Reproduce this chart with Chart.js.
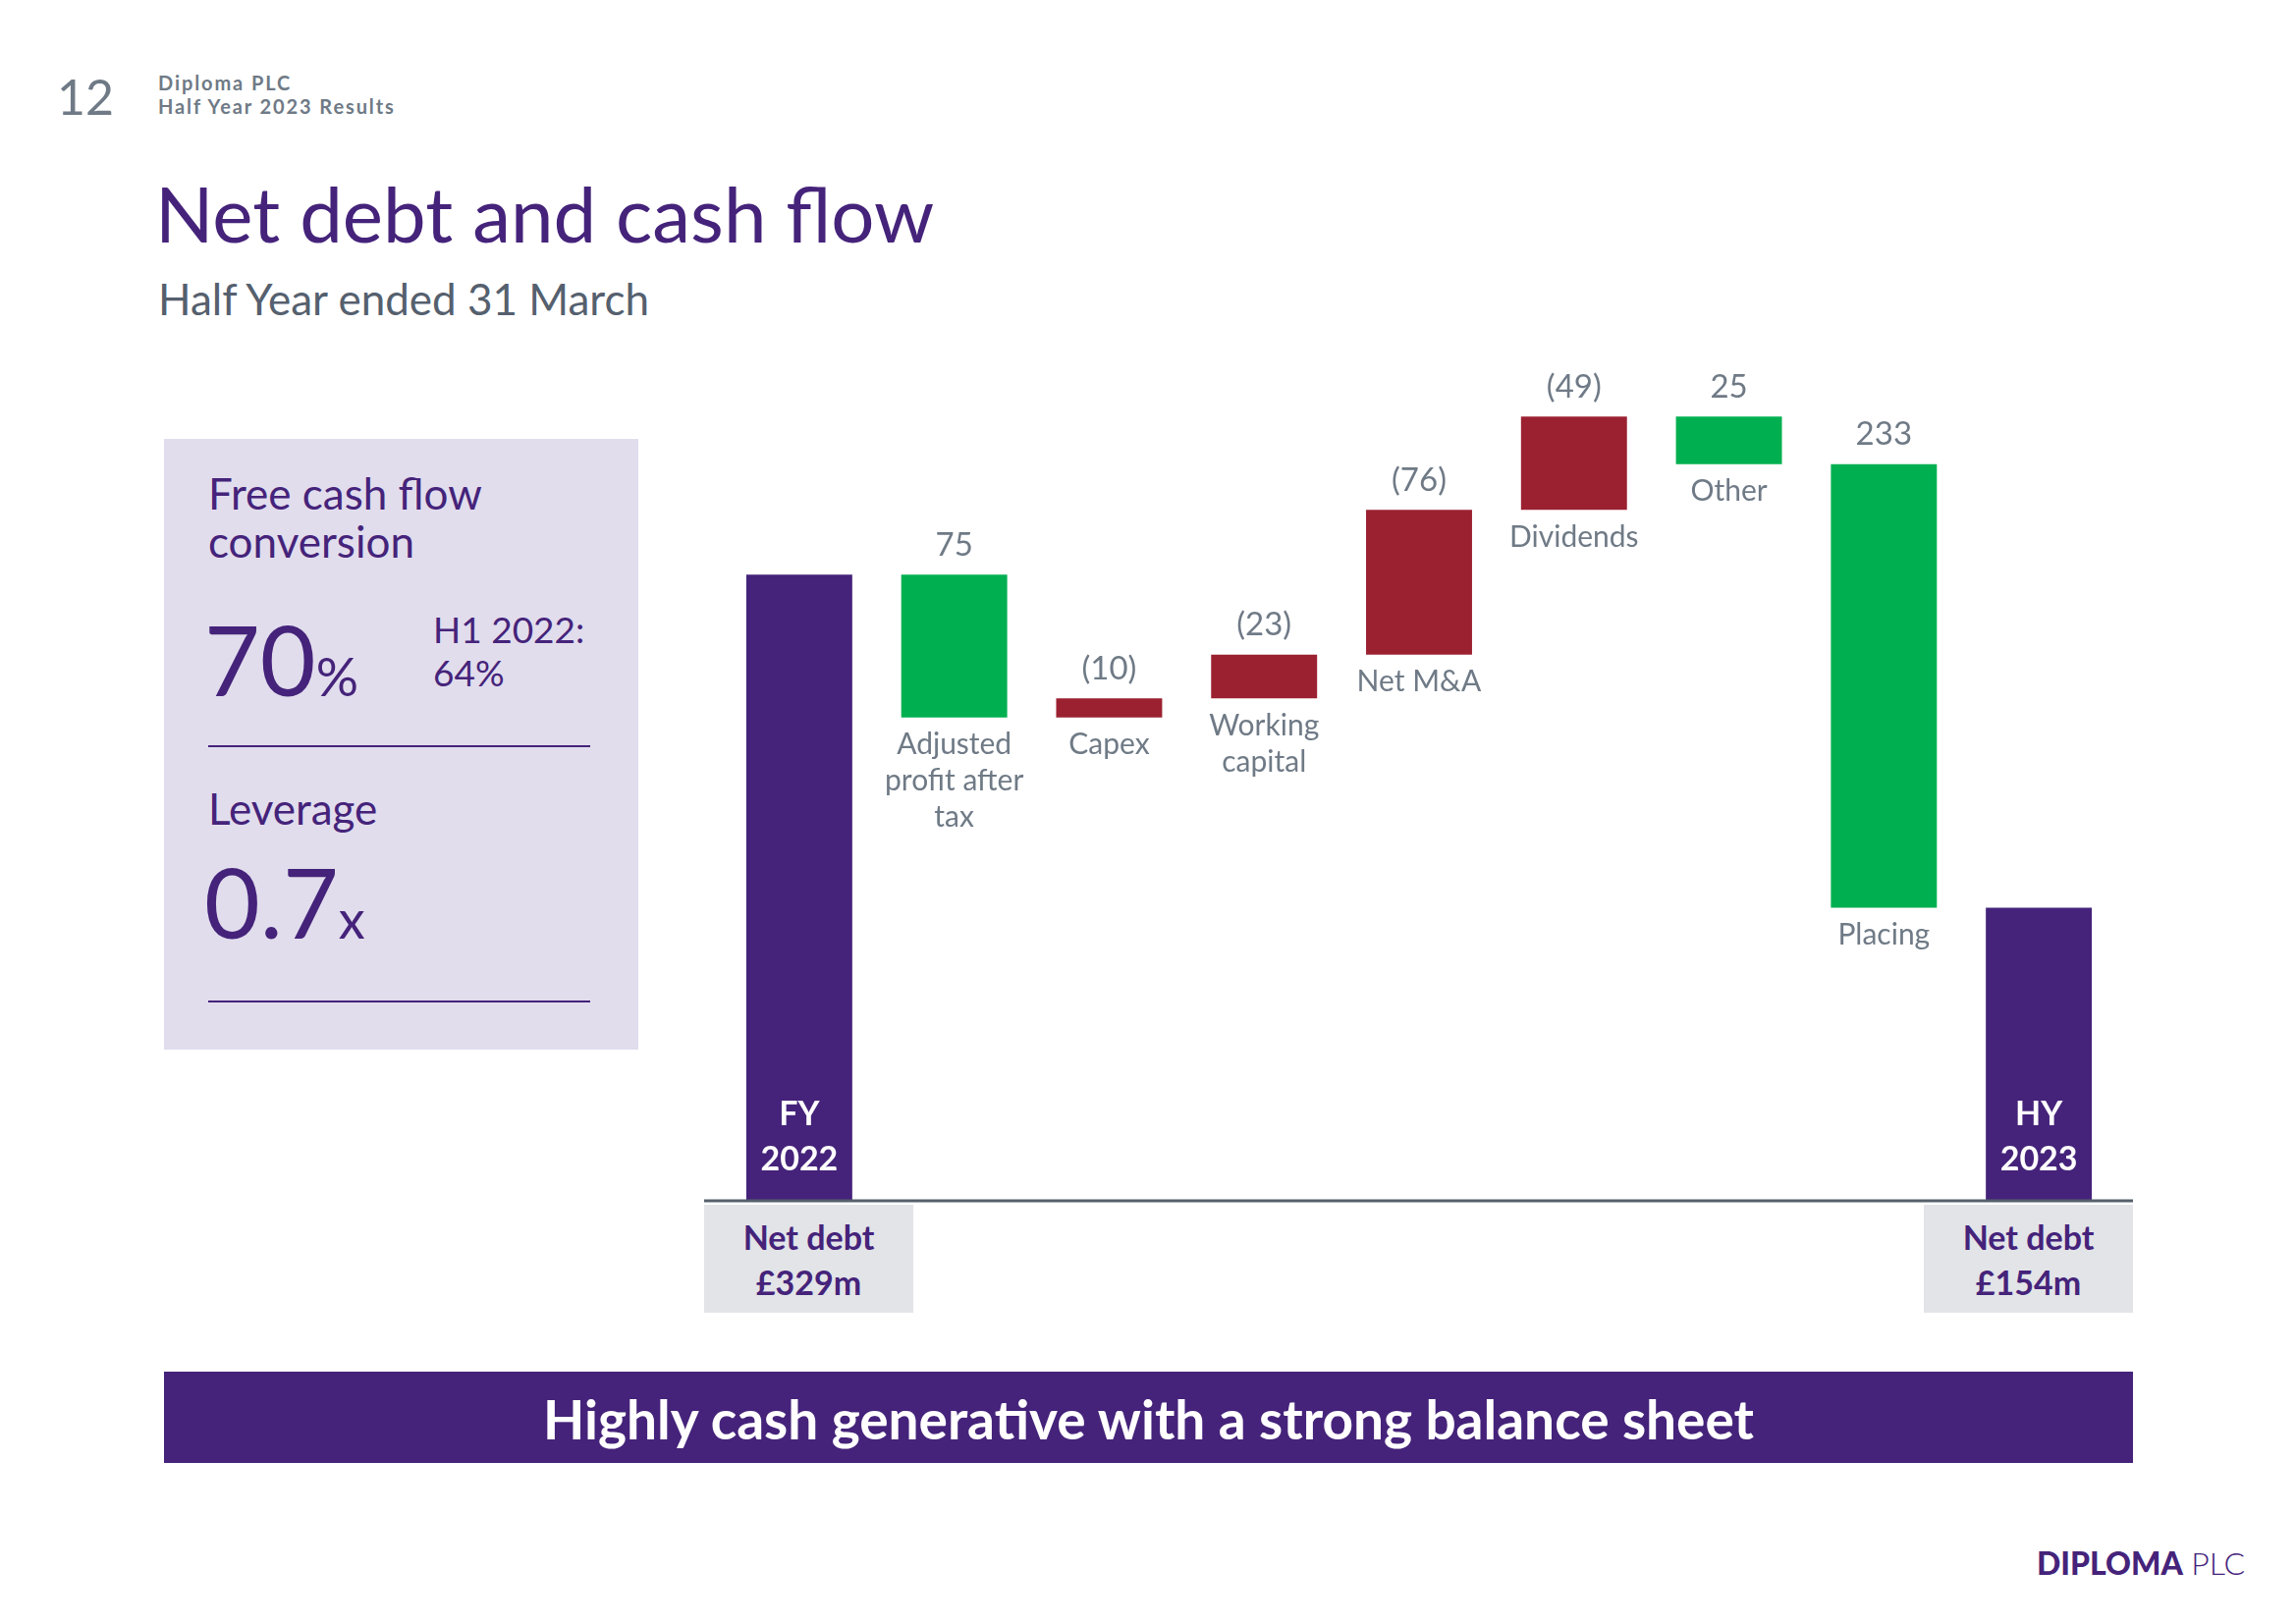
<!DOCTYPE html>
<html>
<head>
<meta charset="utf-8">
<script src="https://cdn.jsdelivr.net/npm/chart.js@4.4.0/dist/chart.umd.min.js"></script>
<style>
  html, body { margin: 0; padding: 0; background: #fff; }
  body { width: 2338px; height: 1653px; position: relative; overflow: hidden; font-family: "Lato", "Open Sans", sans-serif; }
  .t { position: absolute; white-space: nowrap; line-height: 1.2; transform: translateY(-50%); }
  .purple { color: #45237a; }
  .grey { color: #6f7a86; }
  .rule { position: absolute; height: 2px; background: #45237a; }
  .netbox { position: absolute; top: 1227px; width: 213px; height: 110px; background: #e2e4e8; }
  .netbox div { position: absolute; left: 0; right: 0; text-align: center; font-weight: 700; font-size: 34px; color: #45237a; line-height: 1.2; transform: translateY(-50%); }
  #wf { position: absolute; left: 715px; top: 215px; }
</style>
</head>
<body>
  <div class="t grey" style="left:58px; top:98px; font-size:50px;">12</div>
  <div class="t grey" style="left:161px; top:84px; font-size:20px; font-weight:700; letter-spacing:1.9px;">Diploma PLC</div>
  <div class="t grey" style="left:161px; top:108px; font-size:20px; font-weight:700; letter-spacing:1.9px;">Half Year 2023 Results</div>

  <div class="t purple" style="left:158px; top:218px; font-size:78px;">Net debt and cash flow</div>
  <div class="t" style="left:161px; top:304px; font-size:44px; color:#55606e;">Half Year ended 31 March</div>

  <!-- KPI panel -->
  <div style="position:absolute; left:167px; top:447px; width:483px; height:622px; background:#e1dded;"></div>
  <div class="t purple" style="left:212px; top:502px; font-size:44px;">Free cash flow</div>
  <div class="t purple" style="left:212px; top:551px; font-size:44px;">conversion</div>
  <div class="t purple" style="left:208px; top:672px; font-size:98px;">70<span style="font-size:54px;">%</span></div>
  <div class="t purple" style="left:441px; top:641px; font-size:37px;">H1 2022:</div>
  <div class="t purple" style="left:441px; top:685px; font-size:37px;">64%</div>
  <div class="rule" style="left:212px; top:759px; width:389px;"></div>
  <div class="t purple" style="left:212px; top:823px; font-size:44px;">Leverage</div>
  <div class="t purple" style="left:208px; top:919px; font-size:98px;">0.7<span style="font-size:54px;">x</span></div>
  <div class="rule" style="left:212px; top:1019px; width:389px;"></div>

  <canvas id="wf" width="1460" height="1018"></canvas>

  <div class="netbox" style="left:717px;"><div style="top:33px;">Net debt</div><div id="openLbl" style="top:79px;"></div></div>
  <div class="netbox" style="left:1959px;"><div style="top:33px;">Net debt</div><div id="closeLbl" style="top:79px;"></div></div>

  <div style="position:absolute; left:167px; top:1397px; width:2005px; height:93px; background:#45237a;"></div>
  <div class="t" style="left:167px; width:2005px; text-align:center; top:1445px; font-size:55px; font-weight:700; color:#fff;">Highly cash generative with a strong balance sheet</div>

  <div class="t purple" style="left:2074px; top:1592px; font-size:32px;"><span style="font-weight:900;">DIPLOMA</span> <span style="font-weight:300;">PLC</span></div>

<script>
// net debt bridge, £m
const labels = [
  ["FY", "2022"],
  ["Adjusted", "profit after", "tax"],
  ["Capex"],
  ["Working", "capital"],
  ["Net M&A"],
  ["Dividends"],
  ["Other"],
  ["Placing"],
  ["HY", "2023"]
];
const openingDebt = 329;
const closingDebt = 154;
// cash in (+) lowers net debt, cash out (-) raises it
const cashFlows = [75, -10, -23, -76, -49, 25, 233];

const Y_MAX = 520;

(function () {
  const COLORS = {
    total: "#45237a",   // purple
    inflow: "#00b050",  // green
    outflow: "#9b2131", // dark red
    text: "#6f7a86",
    axis: "#55606b"
  };

  document.getElementById("openLbl").textContent = "£" + openingDebt + "m";
  document.getElementById("closeLbl").textContent = "£" + closingDebt + "m";

  // floating bars for the waterfall
  const ranges = [[0, openingDebt]];
  const colors = [COLORS.total];
  const valueText = [null];
  let level = openingDebt;
  cashFlows.forEach(f => {
    const next = level - f;
    ranges.push([Math.min(level, next), Math.max(level, next)]);
    colors.push(f >= 0 ? COLORS.inflow : COLORS.outflow);
    valueText.push(f >= 0 ? String(f) : "(" + Math.abs(f) + ")");
    level = next;
  });
  ranges.push([0, closingDebt]);
  colors.push(COLORS.total);
  valueText.push(null);

  const labelPlugin = {
    id: "wfLabels",
    afterDatasetsDraw(chart) {
      const ctx = chart.ctx;
      const meta = chart.getDatasetMeta(0);
      const area = chart.chartArea;
      const y0 = chart.scales.y.getPixelForValue(0);

      ctx.save();
      // baseline
      ctx.strokeStyle = COLORS.axis;
      ctx.lineWidth = 3;
      ctx.beginPath();
      ctx.moveTo(area.left - 18, y0);
      ctx.lineTo(area.right + 17, y0);
      ctx.stroke();

      ctx.textAlign = "center";
      ctx.textBaseline = "middle";
      meta.data.forEach((bar, i) => {
        const top = Math.min(bar.y, bar.base);
        const bottom = Math.max(bar.y, bar.base);
        const lines = labels[i];
        if (valueText[i] === null) {
          // totals: white label inside the bar
          ctx.fillStyle = "#ffffff";
          ctx.font = "700 34px Lato";
          ctx.fillText(lines[0], bar.x, y0 - 88);
          ctx.fillText(lines[1], bar.x, y0 - 42);
          return;
        }
        ctx.fillStyle = COLORS.text;
        ctx.font = "33px Lato";
        ctx.fillText(valueText[i], bar.x, top - 30);
        ctx.font = "30px Lato";
        lines.forEach((ln, k) => {
          ctx.fillText(ln, bar.x, bottom + 28 + k * 37);
        });
      });
      ctx.restore();
    }
  };

  // eslint-disable-next-line no-undef
  new Chart(document.getElementById("wf"), {
    type: "bar",
    data: {
      labels: labels,
      datasets: [{
        data: ranges,
        backgroundColor: colors,
        borderWidth: 0,
        barPercentage: 0.684,
        categoryPercentage: 1
      }]
    },
    options: {
      responsive: false,
      animation: false,
      devicePixelRatio: 1,
      layout: { padding: { left: 20, right: 20, top: 0, bottom: 10 } },
      plugins: { legend: { display: false }, tooltip: { enabled: false } },
      scales: {
        x: { display: false },
        y: { display: false, min: 0, max: Y_MAX }
      }
    },
    plugins: [labelPlugin]
  });
})();
</script>
</body>
</html>
